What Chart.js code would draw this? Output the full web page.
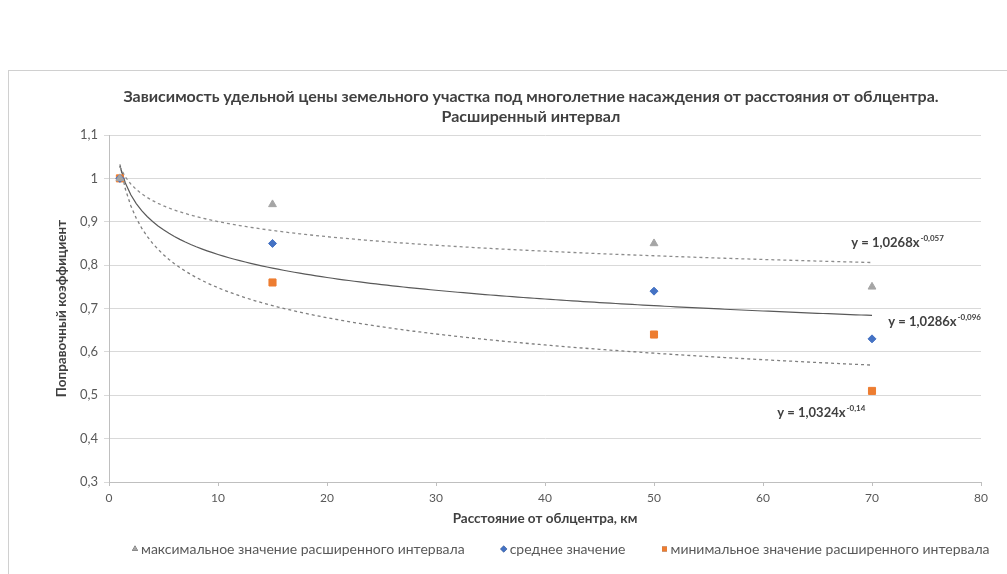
<!DOCTYPE html>
<html>
<head>
<meta charset="utf-8">
<script src="https://cdn.jsdelivr.net/npm/chart.js@4.4.1/dist/chart.umd.min.js"></script>
<style>
  html, body { margin: 0; padding: 0; background: #fff; }
  #wrap { width: 1007px; height: 574px; position: relative; }
</style>
</head>
<body>
<div id="wrap"><canvas id="chart"></canvas></div>
<script>
// данные графика
var distances = [1, 15, 50, 70];
var maxValues = [1, 0.94, 0.85, 0.75];
var meanValues = [1, 0.85, 0.74, 0.63];
var minValues = [1, 0.76, 0.64, 0.51];

// степенные линии тренда y = a * x^b (как подписаны на графике)
var trendA = [1.0268, 1.0286, 1.0324];
var trendB = [-0.057, -0.096, -0.14];
var trendText = ['y = 1,0268x', 'y = 1,0286x', 'y = 1,0324x'];
var trendPow = ['-0,057', '-0,096', '-0,14'];
var trendLabelAt = [[72.3, 0.851], [75.7, 0.669], [65.3, 0.459]];

var titleLines = [
    'Зависимость удельной цены земельного участка под многолетние насаждения от расстояния от облцентра.',
    'Расширенный интервал'
];
var xTitle = 'Расстояние от облцентра, км';
var yTitle = 'Поправочный коэффициент';
var seriesNames = [
    'максимальное значение расширенного интервала',
    'среднее значение',
    'минимальное значение расширенного интервала'
];
var seriesColors = ['#a5a5a5', '#4472c4', '#ed7d31'];
var seriesStyles = ['triangle', 'rectRot', 'rect'];

function toPoints(xs, ys) {
    return xs.map(function (x, i) { return { x: x, y: ys[i] }; });
}

// точки линии тренда от первой до последней точки
function trendPoints(k) {
    var pts = [];
    for (var x = distances[0]; x <= distances[distances.length - 1] + 0.01; x += 0.5) {
        pts.push({ x: x, y: trendA[k] * Math.pow(x, trendB[k]) });
    }
    return pts;
}

var fontFamily = 'Lato, "Open Sans", sans-serif';

// рамка и заголовок диаграммы
var framePlugin = {
    id: 'frame',
    beforeDraw: function (chart) {
        var c = chart.ctx;
        c.save();
        c.strokeStyle = '#d0d0d0';
        c.lineWidth = 1;
        c.strokeRect(8.5, 70.5, 1200, 700);
        c.fillStyle = '#404040';
        c.textAlign = 'center';
        c.textBaseline = 'middle';
        c.font = 'bold 16px ' + fontFamily;
        c.fillText(titleLines[0], 531, 97);
        c.fillText(titleLines[1], 531, 117);
        c.restore();
    }
};

// легенда (только серии точек)
var legendPlugin = {
    id: 'myLegend',
    afterDraw: function (chart) {
        var c = chart.ctx;
        c.save();
        c.font = '14px ' + fontFamily;
        c.textBaseline = 'middle';
        c.textAlign = 'left';
        var x = 131, y = 549;
        for (var i = 0; i < seriesNames.length; i++) {
            Chart.helpers.drawPoint(c, {
                pointStyle: seriesStyles[i],
                radius: 3.5,
                borderWidth: 0,
                rotation: 0
            }, x + 4, y);
            c.fillStyle = seriesColors[i];
            c.fill();
            c.fillStyle = '#595959';
            c.fillText(seriesNames[i], x + 10, y);
            x += 10 + c.measureText(seriesNames[i]).width + 35;
        }
        c.restore();
    }
};

// подписи уравнений тренда
var equationPlugin = {
    id: 'equations',
    afterDatasetsDraw: function (chart) {
        var c = chart.ctx;
        var xs = chart.scales.x, ys = chart.scales.y;
        c.save();
        c.fillStyle = '#404040';
        c.textBaseline = 'middle';
        c.textAlign = 'left';
        for (var k = 0; k < trendText.length; k++) {
            var px = xs.getPixelForValue(trendLabelAt[k][0]);
            var py = ys.getPixelForValue(trendLabelAt[k][1]);
            c.font = 'bold 13px ' + fontFamily;
            var w1 = c.measureText(trendText[k]).width;
            c.font = 'bold 8px ' + fontFamily;
            var w2 = c.measureText(trendPow[k]).width;
            var left = px - (w1 + w2) / 2;
            c.font = 'bold 13px ' + fontFamily;
            c.fillText(trendText[k], left, py);
            c.font = 'bold 8px ' + fontFamily;
            c.fillText(trendPow[k], left + w1 + 1, py - 5);
        }
        c.restore();
    }
};

var ctx = document.getElementById('chart').getContext('2d');
var chart = new Chart(ctx, {
    type: 'scatter',
    data: {
        datasets: [
            {
                label: seriesNames[0],
                data: toPoints(distances, maxValues),
                pointStyle: seriesStyles[0],
                pointRadius: 4.5,
                backgroundColor: seriesColors[0],
                borderColor: seriesColors[0],
                order: 1
            },
            {
                label: seriesNames[1],
                data: toPoints(distances, meanValues),
                pointStyle: seriesStyles[1],
                pointRadius: 4,
                backgroundColor: seriesColors[1],
                borderColor: seriesColors[1],
                order: 1
            },
            {
                label: seriesNames[2],
                data: toPoints(distances, minValues),
                pointStyle: seriesStyles[2],
                pointRadius: 5,
                backgroundColor: seriesColors[2],
                borderColor: seriesColors[2],
                order: 1
            },
            {
                label: 'trend0',
                type: 'line',
                data: trendPoints(0),
                borderColor: '#8c8c8c',
                borderWidth: 1.3,
                borderDash: [3, 3],
                pointRadius: 0,
                fill: false,
                order: 2
            },
            {
                label: 'trend1',
                type: 'line',
                data: trendPoints(1),
                borderColor: '#595959',
                borderWidth: 1.2,
                pointRadius: 0,
                fill: false,
                order: 2
            },
            {
                label: 'trend2',
                type: 'line',
                data: trendPoints(2),
                borderColor: '#7f7f7f',
                borderWidth: 1.3,
                borderDash: [3, 3],
                pointRadius: 0,
                fill: false,
                order: 2
            }
        ]
    },
    options: {
        responsive: true,
        maintainAspectRatio: false,
        animation: false,
        layout: {
            padding: { left: 54, right: 26, top: 135, bottom: 42 }
        },
        plugins: {
            title: { display: false },
            legend: { display: false },
            tooltip: { enabled: false }
        },
        scales: {
            x: {
                type: 'linear',
                min: 0,
                max: 80,
                afterFit: function (scale) { scale.height = 50; },
                ticks: {
                    stepSize: 10,
                    color: '#595959',
                    font: { family: fontFamily, size: 12 },
                    padding: 5
                },
                grid: {
                    drawOnChartArea: false,
                    drawTicks: true,
                    tickLength: 4,
                    color: '#bfbfbf'
                },
                border: { color: '#bfbfbf' },
                title: {
                    display: true,
                    text: xTitle,
                    color: '#404040',
                    font: { family: fontFamily, size: 13.5, weight: 'bold' },
                    padding: { top: 0, bottom: 5 }
                }
            },
            y: {
                min: 0.3,
                max: 1.1,
                afterFit: function (scale) { scale.width = 55; },
                ticks: {
                    stepSize: 0.1,
                    color: '#595959',
                    font: { family: fontFamily, size: 13 },
                    padding: 6,
                    callback: function (v) {
                        return String(Math.round(v * 10) / 10).replace('.', ',');
                    }
                },
                grid: {
                    color: '#d9d9d9',
                    drawTicks: true,
                    tickLength: 5
                },
                border: { color: '#bfbfbf' },
                title: {
                    display: true,
                    text: yTitle,
                    color: '#404040',
                    font: { family: fontFamily, size: 13.5, weight: 'bold' },
                    padding: { top: 0, bottom: 4 }
                }
            }
        }
    },
    plugins: [framePlugin, equationPlugin, legendPlugin]
});
</script>
</body>
</html>
